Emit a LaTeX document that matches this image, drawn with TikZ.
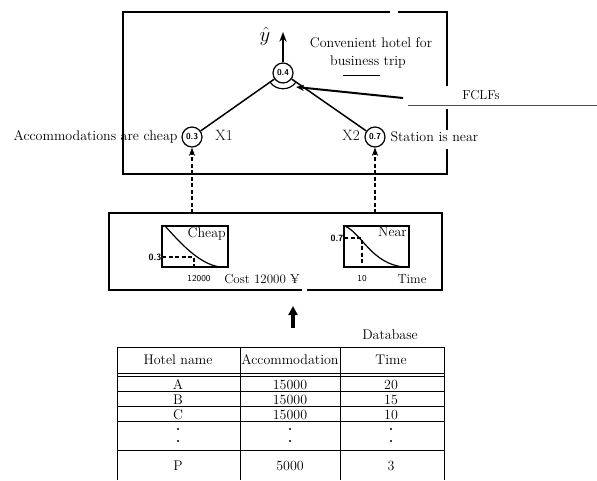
\documentclass[tikz,border=0pt]{standalone}
\usepackage{fontspec}
\usetikzlibrary{arrows.meta}

\newcommand{\labelsize}{\fontsize{14}{16}\selectfont}
\newcommand{\tinysans}{\fontsize{9}{10}\selectfont\sffamily\bfseries}

\tikzset{
    boxline/.style={line width=1.8pt},
    valnode/.style={circle, draw, line width=1.2pt, minimum size=20pt, inner sep=0pt,
                    font=\fontsize{8.5}{9}\selectfont\sffamily\bfseries},
    plotbox/.style={line width=1.3pt},
    tabline/.style={line width=0.9pt},
    guide/.style={line width=1.2pt, dash pattern=on 4pt off 2.5pt},
}

\begin{document}
\begin{tikzpicture}[>=Stealth, x=1pt, y=-1pt, font=\labelsize]

    \useasboundingbox (0,0) rectangle (597,480);

    % --- 1. Upper frame ---
    \draw [boxline] (390,12) -- (123,12) -- (123,174) -- (447,174) -- (447,149);
    \draw [boxline] (398,12) -- (447,12) -- (447,86);
    \draw [boxline] (447,109) -- (447,130);

    % --- 2. Network of truth values ---
    \node [valnode] (goal) at (283,73) {0.4};
    \node [valnode] (xa) at (192,137) {0.3};
    \node [valnode] (xb) at (375,137) {0.7};
    \draw [line width=1.2pt] (270,82) .. controls (276,91) and (290,91) .. (296,82);
    \draw [line width=1.5pt] (goal) -- (xa);
    \draw [line width=1.5pt] (goal) -- (xb);

    \coordinate (yout) at (283,32);
    \draw [->, line width=1.5pt] (goal) -- (yout);
    \node [font=\fontsize{20}{20}\selectfont, inner sep=0pt] (yhat) at (265,36) {$\hat{y}$};

    \node [anchor=east] (lblcheap) at (181,137) {Accommodations are cheap};
    \node [font=\fontsize{15}{15}\selectfont] (xone) at (224,135) {X1};
    \node [font=\fontsize{15}{15}\selectfont] (xtwo) at (351,135) {X2};
    \node [anchor=west] (lblnear) at (387,137) {Station is near};

    \node (goaltop) at (371,43) {Convenient hotel for};
    \node (goalbot) at (368,62) {business trip};
    \draw [line width=1pt] (343,75) -- (380,75);

    % --- 3. FCLF pointer ---
    \node [font=\fontsize{13}{13}\selectfont] (fclf) at (481,95) {FCLFs};
    \coordinate (fclfend) at (403,98);
    \coordinate (ring) at (296,87);
    \draw [-{Stealth[length=8pt, width=6pt]}, line width=2pt] (fclfend) -- (ring);
    \draw [line width=0.8pt, black!70] (408,105) -- (597,105);

    % --- 4. Membership functions ---
    \draw [boxline] (302,290) -- (109,290) -- (109,213) -- (442,213) -- (442,290) -- (307,290);

    \coordinate (ina) at (192,213);
    \coordinate (inb) at (375,213);
    \draw [guide, ->] (ina) -- (xa);
    \draw [guide, ->] (inb) -- (xb);

    % cheap
    \draw [plotbox] (162,226) rectangle (228,267);
    \draw [line width=1.2pt] (165,226) .. controls (178,240) and (198,264) .. (220,267);
    \draw [guide] (162,257) -- (194,257) -- (194,267);
    \node [anchor=north east, inner sep=1pt] (cheap) at (227,226) {Cheap};
    \node [anchor=east, inner sep=0.5pt, font=\tinysans] (cheapval) at (162,257) {0.3};
    \node [font=\tinysans\mdseries] (cheapx) at (199,279) {12000};
    \node [font=\fontsize{13}{13}\selectfont] (cost) at (262,279) {Cost 12000 ¥};

    % near
    \draw [plotbox] (344,226) rectangle (409,267);
    \draw [line width=1.2pt] (345,226) .. controls (362,234) and (372,264) .. (404,267);
    \draw [guide] (344,238) -- (362,238) -- (362,267);
    \node [anchor=north east, inner sep=1pt] (near) at (408,226) {Near};
    \node [anchor=east, inner sep=0.5pt, font=\tinysans] (nearval) at (344,238) {0.7};
    \node [font=\tinysans\mdseries] (nearx) at (362,279) {10};
    \node [font=\fontsize{13}{13}\selectfont] (time) at (412,279) {Time};

    % --- 5. Database ---
    \coordinate (dbfoot) at (293,328);
    \coordinate (dbtip) at (293,306);
    \draw [-{Triangle[length=9pt, width=9pt]}, line width=3.5pt] (dbfoot) -- (dbtip);
    \node (dblbl) at (390,335) {Database};

    \draw [tabline] (117,480) -- (117,347) -- (444,347) -- (444,480);
    \draw [tabline] (240,347) -- (240,480);
    \draw [tabline] (340,347) -- (340,480);
    \draw [tabline] (117,373) -- (444,373);
    \draw [tabline] (117,376.5) -- (444,376.5);
    \foreach \y in {391, 406, 421, 450} {
        \draw [tabline] (117,\y) -- (444,\y);
    }

    \node (hname) at (178,360) {Hotel name};
    \node (hacc) at (290,360) {Accommodation};
    \node (htime) at (391,360) {Time};

    \node [anchor=base] (ra) at (178,389) {A};
    \node [anchor=base] (rb) at (178,404) {B};
    \node [anchor=base] (rc) at (178,419) {C};
    \node [anchor=base] (rp) at (178,470) {P};
    \node [anchor=base] (aa) at (290,389) {15000};
    \node [anchor=base] (ab) at (290,404) {15000};
    \node [anchor=base] (ac) at (290,419) {15000};
    \node [anchor=base] (ap) at (290,470) {5000};
    \node [anchor=base] (ta) at (391,389) {20};
    \node [anchor=base] (tb) at (391,404) {15};
    \node [anchor=base] (tc) at (391,419) {10};
    \node [anchor=base] (tp) at (391,470) {3};

    \foreach \x in {178, 290, 391} {
        \fill (\x,429) circle (1.2);
        \fill (\x,441) circle (1.2);
    }

\end{tikzpicture}
\end{document}
